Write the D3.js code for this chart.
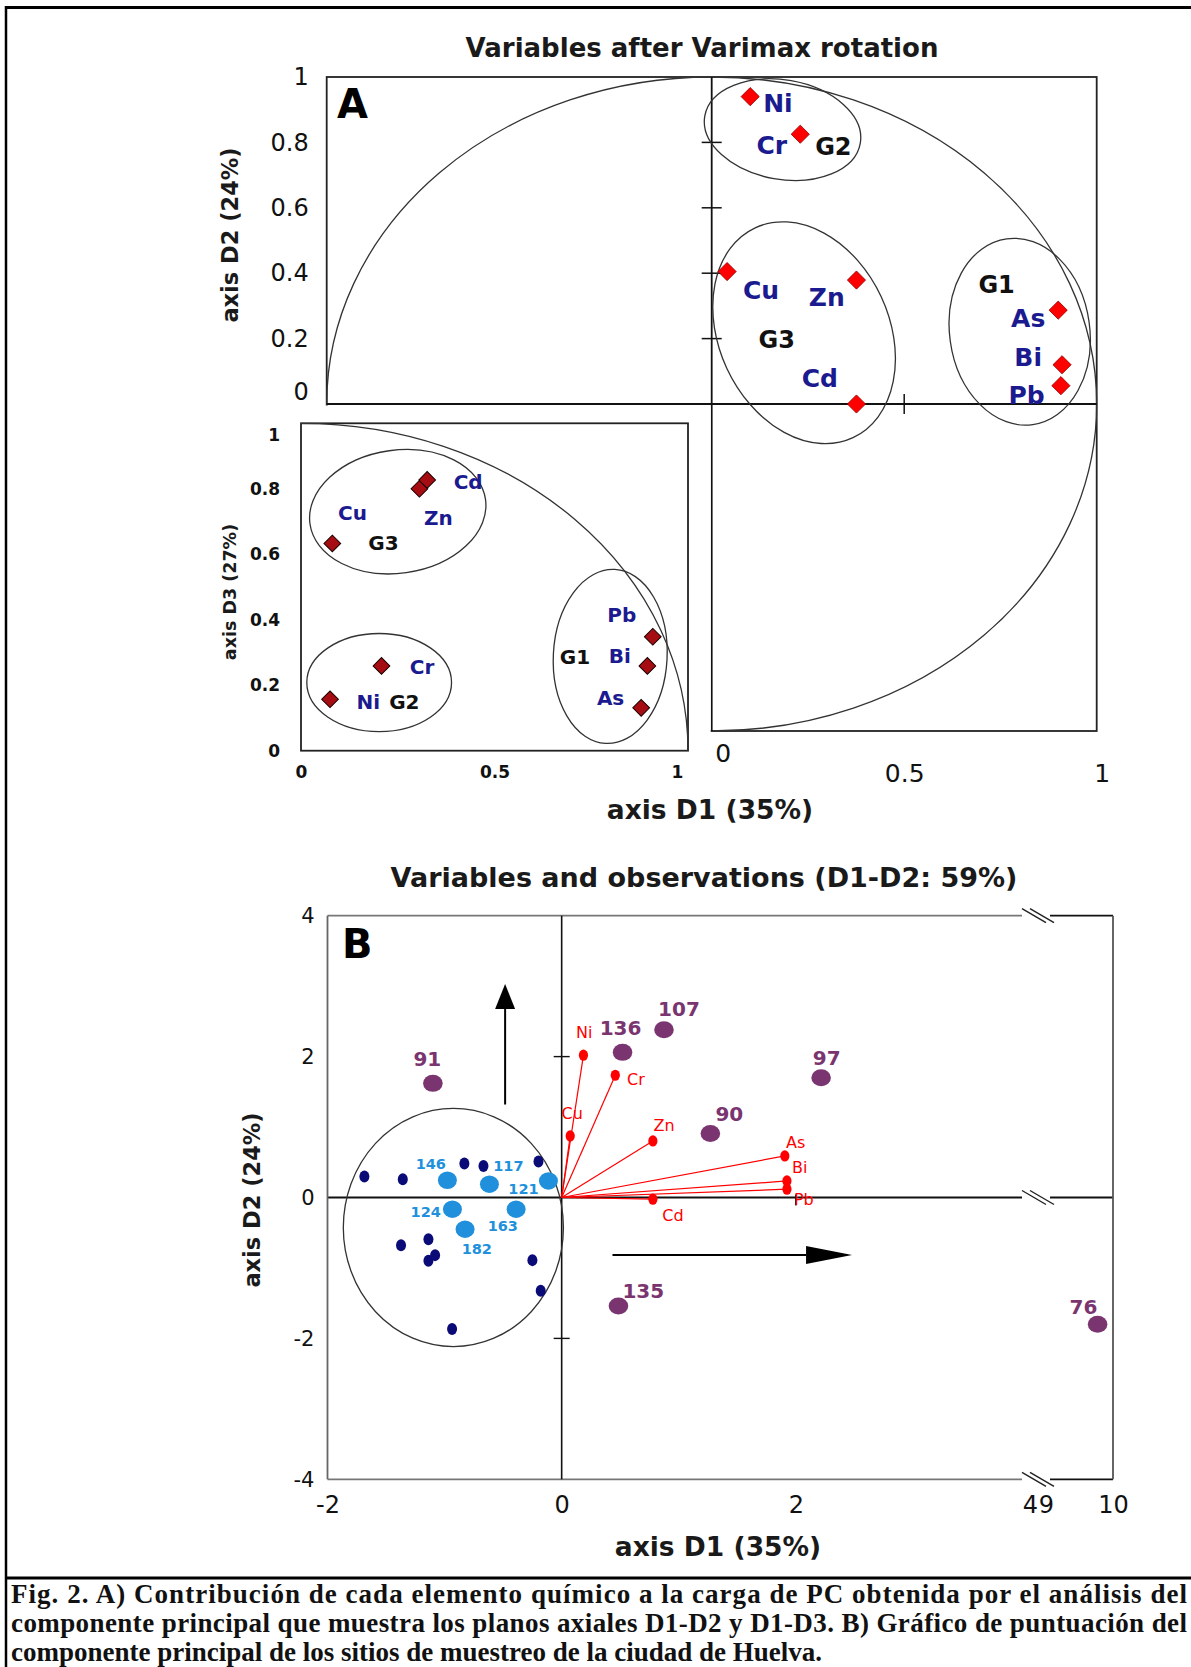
<!DOCTYPE html>
<html>
<head>
<meta charset="utf-8">
<script src="https://cdn.jsdelivr.net/npm/d3@7"></script>
<style>
  body { margin: 0; background: #fff; }
  text { font-family: "DejaVu Sans", sans-serif; }
  text.cap { font-family: "Liberation Serif", "Times New Roman", serif; }
</style>
</head>
<body>
<svg id="fig" width="1191" height="1667"></svg>
<script>
// ---------- data: panel A, plane D1-D2 (after varimax)
var elements = ["Ni", "Cr", "Cu", "Zn", "Cd", "As", "Bi", "Pb"];
var loadD1 = [0.10, 0.23, 0.04, 0.376, 0.376, 0.90, 0.91, 0.907];
var loadD2 = [0.94, 0.825, 0.405, 0.379, 0.0, 0.287, 0.12, 0.056];
var labD1 = [0.172, 0.156, 0.128, 0.299, 0.281, 0.822, 0.822, 0.818];
var labD2 = [0.921, 0.79, 0.348, 0.325, 0.078, 0.261, 0.142, 0.027];

var groups = ["G2", "G3", "G1"];
var groupLabD1 = [0.316, 0.169, 0.74];
var groupLabD2 = [0.788, 0.198, 0.366];
var groupCx = [0.184, 0.24, 0.80];
var groupCy = [0.839, 0.218, 0.221];
var groupRx = [0.205, 0.221, 0.182];
var groupRy = [0.152, 0.354, 0.287];
var groupAngle = [10, -25, -8];

// ---------- data: panel A inset, plane D1-D3
var insetD1 = [0.075, 0.208, 0.081, 0.306, 0.326, 0.879, 0.895, 0.909];
var insetD3 = [0.157, 0.259, 0.633, 0.80, 0.827, 0.131, 0.259, 0.348];
var insetLabD1 = [0.174, 0.313, 0.133, 0.355, 0.432, 0.80, 0.824, 0.829];
var insetLabD3 = [0.15, 0.255, 0.727, 0.71, 0.822, 0.16, 0.289, 0.414];
var insetGroupLabD1 = [0.267, 0.213, 0.708];
var insetGroupLabD3 = [0.15, 0.635, 0.287];
var insetGroupCx = [0.202, 0.25, 0.799];
var insetGroupCy = [0.208, 0.73, 0.288];
var insetGroupRx = [0.187, 0.229, 0.147];
var insetGroupRy = [0.15, 0.188, 0.266];
var insetGroupAngle = [0, -8, 3];

var ticksA = [0, 0.2, 0.4, 0.6, 0.8, 1];
var ticksAx = [0, 0.5, 1];

// ---------- data: panel B, scores D1-D2
var siteIds = ["91", "136", "107", "97", "90", "135", "76"];
var siteX = [-1.10, 0.52, 0.874, 2.216, 1.27, 0.485, 9.77];
var siteY = [1.62, 2.06, 2.38, 1.70, 0.91, -1.54, -1.80];
var siteLabX = [-1.147, 0.503, 1.002, 2.264, 1.432, 0.697, 9.56];
var siteLabY = [1.97, 2.41, 2.68, 1.986, 1.18, -1.325, -1.56];

var clusterIds = ["146", "117", "121", "124", "163", "182"];
var clusterX = [-0.976, -0.617, -0.113, -0.933, -0.389, -0.825];
var clusterY = [0.245, 0.189, 0.235, -0.166, -0.166, -0.450];
var clusterLabX = [-1.118, -0.455, -0.326, -1.161, -0.503, -0.725];
var clusterLabY = [0.472, 0.448, 0.118, -0.204, -0.403, -0.733];

var otherX = [-1.685, -1.357, -0.831, -0.668, -0.198, -1.372, -1.138, -1.138, -1.081, -0.25, -0.179, -0.936];
var otherY = [0.298, 0.26, 0.482, 0.448, 0.51, -0.677, -0.591, -0.899, -0.818, -0.889, -1.325, -1.868];

var vecX = [0.186, 0.458, 0.073, 0.779, 0.779, 1.906, 1.924, 1.924];
var vecY = [2.02, 1.735, 0.874, 0.803, -0.024, 0.59, 0.235, 0.118];
var vecLabX = [0.192, 0.634, 0.09, 0.874, 0.95, 1.999, 2.033, 2.068];
var vecLabY = [2.34, 1.678, 1.196, 1.026, -0.251, 0.789, 0.426, -0.034];

var clusterEllipse = {cx: -0.925, cy: -0.426, rx: 0.94, ry: 1.69};
var arrowsB = [
  {x1: -0.483, y1: 1.32, x2: -0.483, y2: 3.03, hl: 25, hw: 10},
  {x1: 0.434, y1: -0.815, x2: 2.48, y2: -0.815, hl: 46, hw: 9}
];
var ticksBy = [-4, -2, 0, 2, 4];
var ticksBx = [-2, 0, 2, 4, 9, 10];

var captionLines = [
  "Fig. 2. A) Contribución de cada elemento químico a la carga de PC obtenida por el análisis del",
  "componente principal que muestra los planos axiales D1-D2 y D1-D3. B) Gráfico de puntuación del",
  "componente principal de los sitios de muestreo de la ciudad de Huelva."
];

// ---------- colours
var navy = "#1b1b8f", purple = "#7a3570", lightBlue = "#2090dc", darkDot = "#0b0b78", red = "#ff0000";

var svg = d3.select("#fig");

// outer frame
svg.append("line").attr("x1", 5).attr("x2", 1191).attr("y1", 7.5).attr("y2", 7.5).attr("stroke", "#000").attr("stroke-width", 3);
svg.append("line").attr("x1", 6).attr("x2", 6).attr("y1", 6).attr("y2", 1667).attr("stroke", "#000").attr("stroke-width", 2.5);
svg.append("line").attr("x1", 5).attr("x2", 1191).attr("y1", 1578).attr("y2", 1578).attr("stroke", "#000").attr("stroke-width", 3);

// =================== PANEL A ===================
var xA = d3.scaleLinear().domain([-1, 1]).range([326.7, 1096.7]);
var yA = d3.scaleLinear().domain([-1, 1]).range([731, 77]);
var gA = svg.append("g");
var diamond = d3.symbol().type(d3.symbolSquare).size(165);

gA.append("text").attr("x", 702).attr("y", 48).attr("dy", "0.35em")
  .attr("text-anchor", "middle").attr("font-size", 26).attr("font-weight", "bold").attr("fill", "#1a1a1a")
  .text("Variables after Varimax rotation");

gA.append("rect").attr("x", xA(-1)).attr("y", yA(1))
  .attr("width", xA(1) - xA(-1)).attr("height", yA(-1) - yA(1))
  .attr("fill", "none").attr("stroke", "#222").attr("stroke-width", 1.8);

// correlation circle
gA.append("ellipse").attr("cx", xA(0)).attr("cy", yA(0))
  .attr("rx", xA(1) - xA(0)).attr("ry", yA(0) - yA(1))
  .attr("fill", "none").attr("stroke", "#333").attr("stroke-width", 1.3);

gA.append("line").attr("x1", xA(-1)).attr("x2", xA(1)).attr("y1", yA(0)).attr("y2", yA(0)).attr("stroke", "#111").attr("stroke-width", 1.8);
gA.append("line").attr("x1", xA(0)).attr("x2", xA(0)).attr("y1", yA(1)).attr("y2", yA(-1)).attr("stroke", "#111").attr("stroke-width", 1.8);
gA.selectAll(".tickv").data([0.2, 0.4, 0.6, 0.8]).join("line").attr("class", "tickv")
  .attr("x1", xA(0) - 10).attr("x2", xA(0) + 10).attr("y1", d => yA(d)).attr("y2", d => yA(d))
  .attr("stroke", "#111").attr("stroke-width", 1.5);
gA.append("line").attr("x1", xA(0.5)).attr("x2", xA(0.5)).attr("y1", yA(0) - 10).attr("y2", yA(0) + 10)
  .attr("stroke", "#111").attr("stroke-width", 1.5);

// y axis labels
var axA = gA.append("g").attr("transform", `translate(${xA(-1)},0)`)
  .call(d3.axisLeft(yA).tickValues(ticksA).tickSize(0).tickPadding(18).tickFormat(d => d === 0 || d === 1 ? String(d) : d.toFixed(1)));
axA.select(".domain").remove();
axA.selectAll("text").attr("font-size", 24).attr("fill", "#111");
axA.selectAll(".tick").filter(d => d === 0).select("text").attr("dy", "-0.2em");

// x axis labels (below the lower right quadrant)
var axAx = gA.append("g").attr("transform", `translate(0,${yA(-1)})`)
  .call(d3.axisBottom(xA).tickValues(ticksAx).tickSize(0).tickPadding(33).tickFormat(d => String(d)));
axAx.select(".domain").remove();
axAx.selectAll("text").attr("font-size", 25).attr("fill", "#111");
axAx.selectAll(".tick").filter(d => d === 0).select("text").attr("transform", "translate(11,-20)");
axAx.selectAll(".tick").filter(d => d === 1).select("text").attr("transform", "translate(5,0)");

gA.append("text").attr("transform", `translate(230,235) rotate(-90)`).attr("dy", "0.35em")
  .attr("text-anchor", "middle").attr("font-size", 22.5).attr("font-weight", "bold").attr("fill", "#1a1a1a")
  .text("axis D2 (24%)");
gA.append("text").attr("x", 710).attr("y", 810).attr("dy", "0.35em")
  .attr("text-anchor", "middle").attr("font-size", 26.5).attr("font-weight", "bold").attr("fill", "#1a1a1a")
  .text("axis D1 (35%)");

gA.append("text").attr("x", 337).attr("y", 118).attr("font-size", 40).attr("font-weight", "bold").attr("fill", "#000").text("A");

// hide the lower-left quadrant for the inset
gA.append("rect").attr("x", 290).attr("y", yA(0) + 1.5).attr("width", xA(0) - 1 - 290).attr("height", yA(-1) + 30 - yA(0))
  .attr("fill", "#fff");

// group ellipses
groups.forEach(function (g, i) {
  gA.append("ellipse")
    .attr("transform", `translate(${xA(groupCx[i])},${yA(groupCy[i])}) rotate(${groupAngle[i]})`)
    .attr("rx", xA(groupRx[i]) - xA(0)).attr("ry", yA(0) - yA(groupRy[i]))
    .attr("fill", "none").attr("stroke", "#333").attr("stroke-width", 1.3);
  gA.append("text").attr("x", xA(groupLabD1[i])).attr("y", yA(groupLabD2[i])).attr("dy", "0.35em")
    .attr("text-anchor", "middle").attr("font-size", 24).attr("font-weight", "bold").attr("fill", "#111").text(g);
});

gA.selectAll(".dA").data(elements).join("path").attr("class", "dA")
  .attr("d", diamond)
  .attr("transform", (d, i) => `translate(${xA(loadD1[i])},${yA(loadD2[i])}) rotate(45)`)
  .attr("fill", red).attr("stroke", "#900").attr("stroke-width", 0.8);
gA.selectAll(".lA").data(elements).join("text").attr("class", "lA")
  .attr("x", (d, i) => xA(labD1[i])).attr("y", (d, i) => yA(labD2[i])).attr("dy", "0.35em")
  .attr("text-anchor", "middle").attr("font-size", 25).attr("font-weight", "bold").attr("fill", navy)
  .text(d => d);

// ---------- inset D1-D3
var xI = d3.scaleLinear().domain([0, 1]).range([301, 688]);
var yI = d3.scaleLinear().domain([0, 1]).range([750.7, 423.3]);
var gI = svg.append("g");
gI.append("rect").attr("x", xI(0)).attr("y", yI(1)).attr("width", xI(1) - xI(0)).attr("height", yI(0) - yI(1))
  .attr("fill", "#fff").attr("stroke", "#222").attr("stroke-width", 1.8);
gI.append("path")
  .attr("d", `M${xI(0)},${yI(1)} A${xI(1) - xI(0)},${yI(0) - yI(1)} 0 0 1 ${xI(1)},${yI(0)}`)
  .attr("fill", "none").attr("stroke", "#333").attr("stroke-width", 1.3);

var axI = gI.append("g").attr("transform", `translate(${xI(0)},0)`)
  .call(d3.axisLeft(yI).tickValues(ticksA).tickSize(0).tickPadding(21).tickFormat(d => d === 0 || d === 1 ? String(d) : d.toFixed(1)));
axI.select(".domain").remove();
axI.selectAll("text").attr("font-size", 17).attr("font-weight", "bold").attr("fill", "#111");
axI.selectAll(".tick").filter(d => d === 1).select("text").attr("transform", "translate(0,12)");
var axIx = gI.append("g").attr("transform", `translate(0,${yI(0)})`)
  .call(d3.axisBottom(xI).tickValues(ticksAx).tickSize(0).tickPadding(15).tickFormat(d => String(d)));
axIx.select(".domain").remove();
axIx.selectAll("text").attr("font-size", 17).attr("font-weight", "bold").attr("fill", "#111");
axIx.selectAll(".tick").filter(d => d === 1).select("text").attr("transform", "translate(-11,0)");

gI.append("text").attr("transform", `translate(230,592) rotate(-90)`).attr("dy", "0.35em")
  .attr("text-anchor", "middle").attr("font-size", 17.5).attr("font-weight", "bold").attr("fill", "#1a1a1a")
  .text("axis D3 (27%)");

groups.forEach(function (g, i) {
  gI.append("ellipse")
    .attr("transform", `translate(${xI(insetGroupCx[i])},${yI(insetGroupCy[i])}) rotate(${insetGroupAngle[i]})`)
    .attr("rx", xI(insetGroupRx[i]) - xI(0)).attr("ry", yI(0) - yI(insetGroupRy[i]))
    .attr("fill", "none").attr("stroke", "#333").attr("stroke-width", 1.3);
  gI.append("text").attr("x", xI(insetGroupLabD1[i])).attr("y", yI(insetGroupLabD3[i])).attr("dy", "0.35em")
    .attr("text-anchor", "middle").attr("font-size", 20).attr("font-weight", "bold").attr("fill", "#111").text(g);
});
gI.selectAll(".dI").data(elements).join("path").attr("class", "dI")
  .attr("d", d3.symbol().type(d3.symbolSquare).size(140))
  .attr("transform", (d, i) => `translate(${xI(insetD1[i])},${yI(insetD3[i])}) rotate(45)`)
  .attr("fill", "#a50d12").attr("stroke", "#1a0000").attr("stroke-width", 1);
gI.selectAll(".lI").data(elements).join("text").attr("class", "lI")
  .attr("x", (d, i) => xI(insetLabD1[i])).attr("y", (d, i) => yI(insetLabD3[i])).attr("dy", "0.35em")
  .attr("text-anchor", "middle").attr("font-size", 20).attr("font-weight", "bold").attr("fill", navy)
  .text(d => d);

// =================== PANEL B ===================
var xB = d3.scaleLinear().domain([-2, 4, 9, 10]).range([327.5, 1030, 1046, 1113]);
var yB = d3.scaleLinear().domain([-4, 4]).range([1479.3, 915.7]);
var gB = svg.append("g");
var bc = (xB(4) + xB(9)) / 2;

gB.append("text").attr("x", 704).attr("y", 878).attr("dy", "0.35em")
  .attr("text-anchor", "middle").attr("font-size", 27).attr("font-weight", "bold").attr("fill", "#1a1a1a")
  .text("Variables and observations (D1-D2: 59%)");

function brokenLine(y, col) {
  gB.append("line").attr("x1", xB(-2)).attr("x2", bc - 16).attr("y1", y).attr("y2", y).attr("stroke", col).attr("stroke-width", 1.8);
  gB.append("line").attr("x1", bc + 12).attr("x2", xB(10)).attr("y1", y).attr("y2", y).attr("stroke", "#111").attr("stroke-width", 1.8);
  [-4, 4].forEach(function (o) {
    gB.append("line").attr("x1", bc + o - 12).attr("x2", bc + o + 12).attr("y1", y - 7).attr("y2", y + 7)
      .attr("stroke", "#222").attr("stroke-width", 1.4);
  });
}
brokenLine(yB(4), "#777");
brokenLine(yB(-4), "#777");
brokenLine(yB(0), "#111");
gB.append("line").attr("x1", xB(-2)).attr("x2", xB(-2)).attr("y1", yB(4)).attr("y2", yB(-4)).attr("stroke", "#666").attr("stroke-width", 1.8);
gB.append("line").attr("x1", xB(10)).attr("x2", xB(10)).attr("y1", yB(4)).attr("y2", yB(-4)).attr("stroke", "#555").attr("stroke-width", 1.8);
gB.append("line").attr("x1", xB(0)).attr("x2", xB(0)).attr("y1", yB(4)).attr("y2", yB(-4)).attr("stroke", "#111").attr("stroke-width", 1.6);
gB.selectAll(".tb").data([2, -2]).join("line").attr("class", "tb")
  .attr("x1", xB(0) - 8).attr("x2", xB(0) + 8).attr("y1", d => yB(d)).attr("y2", d => yB(d))
  .attr("stroke", "#111").attr("stroke-width", 1.4);
gB.append("line").attr("x1", xB(2)).attr("x2", xB(2)).attr("y1", yB(0) - 3).attr("y2", yB(0) + 8).attr("stroke", "#111").attr("stroke-width", 1.4);

var axBy = gB.append("g").attr("transform", `translate(${xB(-2)},0)`)
  .call(d3.axisLeft(yB).tickValues(ticksBy).tickSize(0).tickPadding(13).tickFormat(d => String(d)));
axBy.select(".domain").remove();
axBy.selectAll("text").attr("font-size", 21).attr("fill", "#111");
var axBx = gB.append("g").attr("transform", `translate(0,${yB(-4)})`)
  .call(d3.axisBottom(xB).tickValues(ticksBx).tickSize(0).tickPadding(17).tickFormat(d => String(d)));
axBx.select(".domain").remove();
axBx.selectAll("text").attr("font-size", 24).attr("fill", "#111");

gB.append("text").attr("transform", `translate(252,1200) rotate(-90)`).attr("dy", "0.35em")
  .attr("text-anchor", "middle").attr("font-size", 22.5).attr("font-weight", "bold").attr("fill", "#1a1a1a")
  .text("axis D2 (24%)");
gB.append("text").attr("x", 718).attr("y", 1547).attr("dy", "0.35em")
  .attr("text-anchor", "middle").attr("font-size", 26.5).attr("font-weight", "bold").attr("fill", "#1a1a1a")
  .text("axis D1 (35%)");
gB.append("text").attr("x", 342).attr("y", 958).attr("font-size", 40).attr("font-weight", "bold").attr("fill", "#000").text("B");

// cluster ellipse
gB.append("ellipse").attr("cx", xB(clusterEllipse.cx)).attr("cy", yB(clusterEllipse.cy))
  .attr("rx", xB(clusterEllipse.rx) - xB(0)).attr("ry", yB(0) - yB(clusterEllipse.ry))
  .attr("fill", "none").attr("stroke", "#333").attr("stroke-width", 1.3);

// arrows
arrowsB.forEach(function (a) {
  var px1 = xB(a.x1), py1 = yB(a.y1), px2 = xB(a.x2), py2 = yB(a.y2);
  var len = Math.hypot(px2 - px1, py2 - py1), ux = (px2 - px1) / len, uy = (py2 - py1) / len;
  var bx = px2 - ux * a.hl, by = py2 - uy * a.hl;
  gB.append("line").attr("x1", px1).attr("y1", py1).attr("x2", bx).attr("y2", by).attr("stroke", "#000").attr("stroke-width", 2);
  gB.append("path").attr("d", `M${px2},${py2}L${bx - uy * a.hw},${by + ux * a.hw}L${bx + uy * a.hw},${by - ux * a.hw}Z`).attr("fill", "#000");
});

// variable vectors
gB.selectAll(".vec").data(elements).join("line").attr("class", "vec")
  .attr("x1", xB(0)).attr("y1", yB(0)).attr("x2", (d, i) => xB(vecX[i])).attr("y2", (d, i) => yB(vecY[i]))
  .attr("stroke", red).attr("stroke-width", 1.2);
gB.selectAll(".vdot").data(elements).join("ellipse").attr("class", "vdot")
  .attr("cx", (d, i) => xB(vecX[i])).attr("cy", (d, i) => yB(vecY[i])).attr("rx", 4.6).attr("ry", 5.6).attr("fill", red);
gB.selectAll(".vlab").data(elements).join("text").attr("class", "vlab")
  .attr("x", (d, i) => xB(vecLabX[i])).attr("y", (d, i) => yB(vecLabY[i])).attr("dy", "0.35em")
  .attr("text-anchor", "middle").attr("font-size", 16).attr("fill", red).text(d => d);

// observations
gB.selectAll(".odot").data(otherX).join("ellipse").attr("class", "odot")
  .attr("cx", d => xB(d)).attr("cy", (d, i) => yB(otherY[i])).attr("rx", 5).attr("ry", 6).attr("fill", darkDot);
gB.selectAll(".cdot").data(clusterIds).join("ellipse").attr("class", "cdot")
  .attr("cx", (d, i) => xB(clusterX[i])).attr("cy", (d, i) => yB(clusterY[i])).attr("rx", 9.5).attr("ry", 8.7).attr("fill", lightBlue);
gB.selectAll(".clab").data(clusterIds).join("text").attr("class", "clab")
  .attr("x", (d, i) => xB(clusterLabX[i])).attr("y", (d, i) => yB(clusterLabY[i])).attr("dy", "0.35em")
  .attr("text-anchor", "middle").attr("font-size", 14.5).attr("font-weight", "bold").attr("fill", lightBlue).text(d => d);
gB.selectAll(".sdot").data(siteIds).join("ellipse").attr("class", "sdot")
  .attr("cx", (d, i) => xB(siteX[i])).attr("cy", (d, i) => yB(siteY[i])).attr("rx", 9.8).attr("ry", 8.5).attr("fill", purple);
gB.selectAll(".slab").data(siteIds).join("text").attr("class", "slab")
  .attr("x", (d, i) => xB(siteLabX[i])).attr("y", (d, i) => yB(siteLabY[i])).attr("dy", "0.35em")
  .attr("text-anchor", "middle").attr("font-size", 20).attr("font-weight", "bold").attr("fill", purple).text(d => d);

// =================== caption ===================
svg.selectAll(".cap").data(captionLines).join("text").attr("class", "cap")
  .attr("x", 11).attr("y", (d, i) => 1603 + i * 29)
  .attr("font-size", 27).attr("font-weight", "bold").attr("fill", "#111")
  .each(function (d, i) {
    if (i < 2) d3.select(this).attr("textLength", 1176).attr("lengthAdjust", "spacing");
  })
  .text(d => d);
</script>
</body>
</html>
